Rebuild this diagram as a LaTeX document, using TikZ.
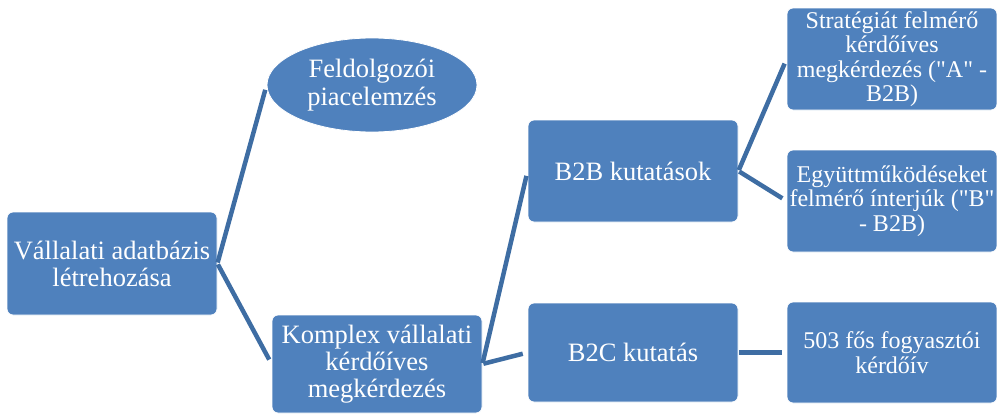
\documentclass[tikz,border=0pt]{standalone}
\usepackage{fontspec}
\setmainfont{Liberation Serif}[Ligatures=TeXOff]
\usetikzlibrary{shapes.geometric}
\definecolor{boxblue}{HTML}{4F81BD}
\definecolor{linkblue}{HTML}{3E6DA3}
\begin{document}
\begin{tikzpicture}[x=1pt,y=-1pt,
  box/.style={rectangle, rounded corners=6pt, fill=boxblue, draw=white, line width=0.8pt,
    minimum width=210pt, align=center, text=white,
    font=\fontsize{26.5}{27}\selectfont, inner sep=0pt},
  small/.style={font=\fontsize{24}{24.5}\selectfont},
  ellbox/.style={ellipse, fill=boxblue, draw=white, line width=0.8pt,
    minimum width=210pt, minimum height=94pt, align=center, text=white,
    font=\fontsize{26.5}{27.5}\selectfont, inner sep=0pt},
  link/.style={draw=linkblue, line width=4.5pt, shorten <=1pt, shorten >=5pt}]
\useasboundingbox (0,0) rectangle (997,415);
\node[box, minimum height=103pt] (root) at (112,263.5) {Vállalati adatbázis\\létrehozása};
\node[ellbox] (ell) at (372,85) {Feldolgozói\\piacelemzés};
\node[box, minimum height=98pt] (komplex) at (377,364) {Komplex vállalati\\kérdőíves\\megkérdezés};
\node[box, minimum height=102pt] (b2b) at (633,171) {B2B kutatások};
\node[box, minimum height=99pt] (b2c) at (633,352.5) {B2C kutatás};
\node[box, small, minimum height=102pt] (sa) at (892,59) {Stratégiát felmérő\\kérdőíves\\megkérdezés ("A" -\\B2B)};
\node[box, small, minimum height=102pt] (sb) at (892,201) {Együttműködéseket\\felmérő ínterjúk ("B"\\- B2B)};
\node[box, small, minimum height=101pt] (c503) at (892,352.5) {503 fős fogyasztói\\kérdőív};
\draw[link] (root.east) -- (ell.west);
\draw[link] (root.east) -- (komplex.west);
\draw[link] (komplex.east) -- (b2b.west);
\draw[link] (komplex.east) -- (b2c.west);
\draw[link] (b2b.east) -- (sa.west);
\draw[link] (b2b.east) -- (sb.west);
\draw[link] (b2c.east) -- (c503.west);
\end{tikzpicture}
\end{document}
